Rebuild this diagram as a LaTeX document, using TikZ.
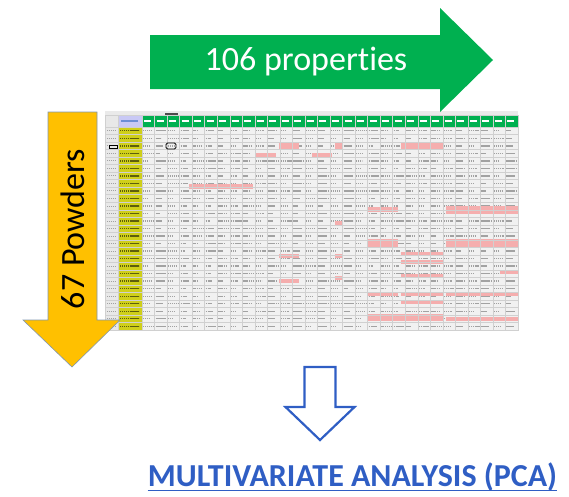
\documentclass[tikz,border=0pt]{standalone}
\usepackage{fontspec}
\setmainfont{Carlito}[Ligatures=NoCommon]
\usetikzlibrary{calc}
\definecolor{SheetGreen}{HTML}{00B050}
\definecolor{SheetGold}{HTML}{FFC000}
\definecolor{SheetOlive}{HTML}{CFCF1A}
\definecolor{SheetLilac}{HTML}{C9C9F5}
\definecolor{SheetPink}{HTML}{F5AEAE}
\definecolor{SheetGrid}{HTML}{D0D0D0}
\definecolor{SheetInk}{HTML}{A2A2A2}
\definecolor{SheetCell}{HTML}{F1F1F1}
\definecolor{GoldEdge}{HTML}{7F96B0}
\definecolor{PcaBlue}{HTML}{2F5EC4}

\begin{document}
\begin{tikzpicture}[x=1pt,y=-1pt]
  \tikzset{
    lbl/.style={inner sep=0pt,font=\fontsize{34}{34}\selectfont},
    ink/.style={draw=SheetInk,line width=1.4pt,dash pattern=on 1.4pt off 0.5pt},
    hot/.style={fill=SheetPink}
  }
  \useasboundingbox (0,0) rectangle (569,496);
  \def\cw{12.533}\def\rh{7.52}
  % spreadsheet background
  \fill[SheetGrid!45] (105,111) rectangle (518,115);
  \fill[black!70] (165,112.5) rectangle (178,115);
  \fill[SheetCell] (105,115) rectangle (518,330);
  \fill[SheetGreen] (142,115) rectangle (518,127);
  \fill[SheetLilac] (118,115) rectangle (142,127);
  \fill[SheetOlive] (118,127) rectangle (142,330);
  \fill[SheetGrid!50] (105,115) rectangle (118,330);
  % cell contents
  \pgfmathsetseed{11}
  \foreach \r in {0,...,26}
    \foreach \c in {0,...,29}{
      \pgfmathsetmacro\mlen{4+7*rnd}
      \draw[ink] ({142+\c*\cw+1},{127+(\r+0.5)*\rh}) -- ++(\mlen,0);
    }
  \foreach \r in {0,...,26}{
    \draw[ink,draw=black!55!SheetOlive] (120,{127+(\r+0.5)*\rh}) -- ++(19,0);
    \draw[ink,line width=0.9pt] (107,{127+(\r+0.5)*\rh}) -- ++(9,0);
  }
  \foreach \c in {0,...,29}
    \draw[white,line width=1.2pt] ({142+\c*\cw+2},121) -- ++(7,0);
  \draw[PcaBlue!70,line width=1.2pt] (121,121) -- ++(17,0);
  % highlighted cells
  \foreach \xa/\xb/\ya/\yb in {279/299/142/149, 401/443/142/149, 335/343/142/149,
      256/276/153/157, 312/332/153/157, 189/253/184/189, 368/398/207/212,
      446/518/206/214, 335/343/221/225, 368/398/239/247, 446/518/239/247,
      401/443/252/256, 279/299/254/258, 335/343/254/258, 401/443/260/264,
      500/518/270/274, 401/443/274/278, 279/299/279/283, 335/343/276/280,
      368/398/292/296, 401/443/292/296, 446/518/292/296, 401/443/300/304,
      368/443/314/321, 446/518/317/321}
    \fill[hot] (\xa,\ya) rectangle (\xb,\yb);
  % grid
  \foreach \r in {0,...,27}
    \draw[SheetGrid,line width=0.4pt] (105,{127+\r*\rh}) -- (518,{127+\r*\rh});
  \foreach \c in {0,...,30}
    \draw[SheetGrid,line width=0.4pt] ({142+\c*\cw},115) -- ({142+\c*\cw},330);
  \draw[SheetGrid,line width=0.4pt] (105,115) rectangle (518,330) (118,115) -- (118,330);
  \draw[black,line width=0.8pt,rounded corners=1.5pt] (166,143) rectangle (176,149);
  \draw[black,line width=0.8pt] (109,145) rectangle (117,148.5);
  % arrows
  \fill[SheetGreen] (150,35) -- (440,35) -- (440,8) -- (493,60) -- (440,112)
    -- (440,89) -- (150,89) -- cycle;
  \node[lbl,text=white] (props) at (306,62) {106 properties};
  \filldraw[fill=SheetGold,draw=GoldEdge,line width=0.6pt] (48,112) -- (97,112)
    -- (97,320) -- (120,320) -- (72,367) -- (23,320) -- (48,320) -- cycle;
  \node[lbl,rotate=90] (powders) at (73,229) {67 Powders};
  \draw[PcaBlue,line width=2.2pt] (304.5,367) -- (335.5,367) -- (335.5,407)
    -- (354.5,407) -- (320,440) -- (285.5,407) -- (304.5,407) -- cycle;
  \node[inner sep=0pt,anchor=base,text=PcaBlue,font=\bfseries\fontsize{32}{32}\selectfont]
    (pca) at (352.5,486) {MULTIVARIATE ANALYSIS (PCA)};
  \draw[PcaBlue,line width=1.6pt] ($(pca.base west)+(0,4.5)$) -- ($(pca.base east)+(0,4.5)$);
\end{tikzpicture}
\end{document}
